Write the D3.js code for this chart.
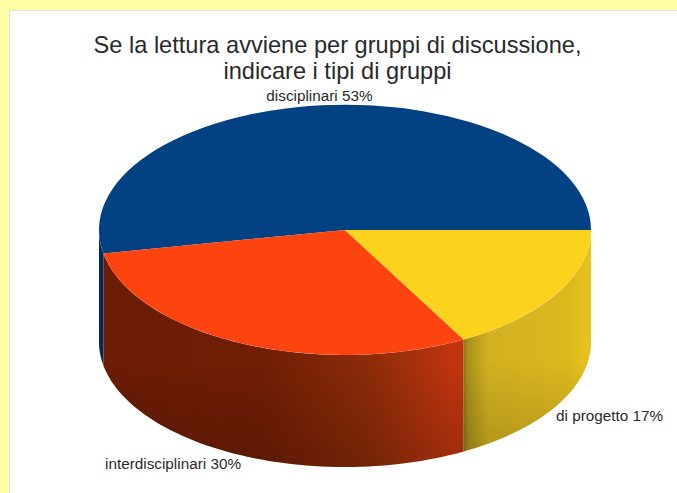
<!DOCTYPE html>
<html><head><meta charset="utf-8">
<script src="https://cdn.jsdelivr.net/npm/d3@7"></script>
<style>html,body{margin:0;padding:0;background:#ffffa6}svg{display:block}text{font-family:"Liberation Sans",Arial,sans-serif;fill:#2a2a2a}</style>
</head><body><svg id="c" width="677" height="493"></svg>
<script>
const categories = ["disciplinari","interdisciplinari","di progetto"];
const values = [53,30,17];
const topColors = ["#024182","#fd430e","#fbd21c"];
const titleLines = ["Se la lettura avviene per gruppi di discussione,","indicare i tipi di gruppi"];

const cx=345, cy=230, rx=246, ry=125, depth=112;
const svg=d3.select("#c");
svg.append("rect").attr("x",9).attr("y",10).attr("width",668).attr("height",483).attr("fill","#fff");
svg.append("path").attr("d","M9.5,493V10.5H677").attr("fill","none").attr("stroke","#dedede");

const defs=svg.append("defs");
function grad(id,stops,vertical){
  const g=defs.append("linearGradient").attr("id",id).attr("gradientUnits","userSpaceOnUse");
  if(vertical) g.attr("x1",0).attr("x2",0).attr("y1",cy).attr("y2",cy+ry+depth);
  else g.attr("x1",cx-rx).attr("x2",cx+rx).attr("y1",0).attr("y2",0);
  stops.forEach(s=>g.append("stop").attr("offset",s[0]).attr("stop-color",s[1]).attr("stop-opacity",s[2]===undefined?1:s[2]));
}
grad("side0",[[0,"#012a58"],[1,"#012a58"]]);
grad("side1",[[0,"#6b1c03"],[0.33,"#701e04"],[0.55,"#8c2c08"],[0.72,"#c0350e"],[0.735,"#c0350e"]]);
grad("side2",[[0.735,"#6f6508"],[0.75,"#a8921a"],[0.79,"#d2b020"],[0.95,"#dcb81e"],[1,"#e8c21c"]]);
grad("shade",[[0,"#000",0],[0.55,"#000",0],[1,"#000",0.18]],true);

const pie=d3.pie().sort(null).value(d=>d).startAngle(Math.PI/2).endAngle(Math.PI/2-2*Math.PI);
const arcs=pie(values);
const arc=d3.arc().innerRadius(0).outerRadius(1);
const px=a=>cx+rx*Math.sin(a), py=a=>cy-ry*Math.cos(a);

function wall(lo,hi){
  const ang=d3.range(0,61).map(i=>lo+(hi-lo)*i/60);
  const top=ang.map(a=>[px(a),py(a)]);
  const bot=ang.slice().reverse().map(a=>[px(a),py(a)+depth]);
  return d3.line()(top.concat(bot))+"Z";
}
const vis=arcs.map(d=>{
  const lo=Math.min(d.startAngle,d.endAngle)+2*Math.PI, hi=Math.max(d.startAngle,d.endAngle)+2*Math.PI;
  const s=Math.max(lo,Math.PI/2), e=Math.min(hi,3*Math.PI/2);
  return e>s?[s,e]:null;
});
[0,2,1].forEach(i=>{
  if(!vis[i])return;
  svg.append("path").attr("d",wall(vis[i][0],vis[i][1])).attr("fill",`url(#side${i})`);
  svg.append("path").attr("d",wall(vis[i][0],vis[i][1])).attr("fill","url(#shade)");
});

svg.append("g").attr("transform",`translate(${cx},${cy}) scale(${rx},${ry})`)
  .selectAll("path").data(arcs).join("path")
  .attr("d",arc).attr("fill",(d,i)=>topColors[i]);

svg.append("g").selectAll("text").data(titleLines).join("text")
  .attr("x",337.5).attr("y",(d,i)=>53+i*26).attr("text-anchor","middle")
  .attr("font-size",23.6).text(d=>d);

const labelPos=[[319.5,101,"middle"],[105,469,"start"],[556,421,"start"]];
svg.append("g").selectAll("text").data(categories).join("text")
  .attr("x",(d,i)=>labelPos[i][0]).attr("y",(d,i)=>labelPos[i][1]).attr("text-anchor",(d,i)=>labelPos[i][2])
  .attr("font-size",15.3).text((d,i)=>`${d} ${values[i]}%`);
</script></body></html>
